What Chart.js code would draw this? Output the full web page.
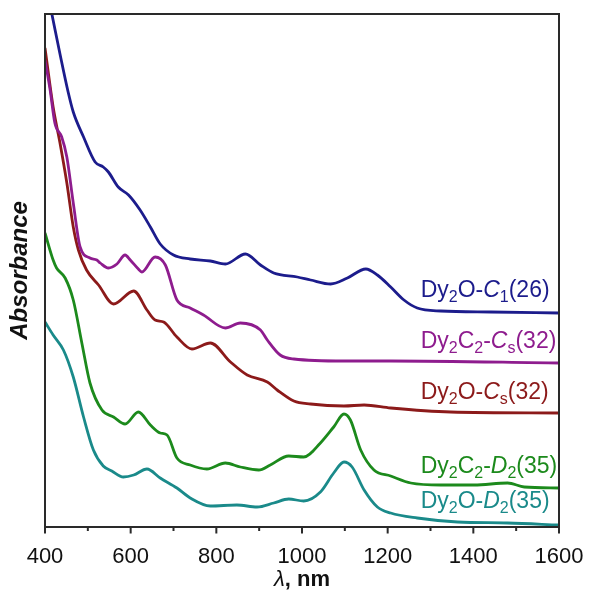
<!DOCTYPE html>
<html><head><meta charset="utf-8">
<script src="https://cdn.jsdelivr.net/npm/chart.js@4"></script>
<style>html,body{margin:0;padding:0;background:#fff}#wrap{width:589px;height:593px;position:relative}</style>
</head><body><div id="wrap"><canvas id="c"></canvas></div>
<script>
// wavelengths (nm) and absorbance (arbitrary units, offset traces)
const wlC1  = [400,416,435,454,466,490,517,536,548,571,595,622,646,669,700,739,786,821,868,903,934,989,1020,1067,1106,1149,1176,1207,1238,1269,1324,1441,1600];
const absC1 = [545,512,472,434,414,389,364,359,354,339,331,316,299,282,271,267,265,262,272,261,253,249,246,242,248,257,251,239,226,218,215,214,213];

const wlCs2  = [400,412,423,439,451,466,482,505,521,529,548,568,587,599,618,626,657,681,708,739,770,821,856,903,919,949,981,1098,1207,1600];
const absCs2 = [466,436,403,389,369,323,279,268,266,263,258,262,271,266,257,254,269,261,226,218,211,198,203,196,186,171,167,165,165,163];

const wlCs1  = [400,419,435,451,466,478,497,525,560,607,638,657,677,708,743,786,833,872,919,942,981,1020,1098,1145,1207,1347,1600];
const absCs1 = [478,419,383,343,299,276,256,241,222,235,216,206,204,189,177,183,164,151,144,136,125,122,120,121,118,114,113];

const wlD2b  = [400,419,427,447,466,486,505,533,560,587,618,646,669,685,708,739,778,821,856,899,926,969,1004,1043,1074,1098,1113,1137,1168,1207,1254,1324,1402,1480,1519,1600];
const absD2b = [293,266,258,248,226,183,143,116,109,102,114,101,93,91,68,61,57,63,59,56,61,70,69,83,99,112,106,76,56,50,43,41,41,43,39,38];

const wlD2a  = [400,419,443,466,490,513,536,556,583,607,638,669,708,739,786,848,895,934,969,1004,1043,1074,1098,1117,1145,1176,1207,1269,1363,1480,1600];
const absD2a = [204,191,176,149,109,76,60,55,49,51,57,48,38,28,20,21,19,23,27,25,34,53,64,59,36,19,13,8,4,3,1];

const xTicks = [400,600,800,1000,1200,1400,1600];

const colors = ['#1c1c8c','#8e1c8e','#8c1a1a','#1c8a1c','#1a8a8a'];

// label text parts: s = subscript, i = italic
const labels = [
  {parts:[{t:'Dy'},{t:'2',s:1},{t:'O-'},{t:'C',i:1},{t:'1',s:1},{t:'(26)'}], x:1277, y:229},
  {parts:[{t:'Dy'},{t:'2',s:1},{t:'C'},{t:'2',s:1},{t:'-'},{t:'C',i:1},{t:'s',s:1},{t:'(32)'}], x:1277, y:178},
  {parts:[{t:'Dy'},{t:'2',s:1},{t:'O-'},{t:'C',i:1},{t:'s',s:1},{t:'(32)'}], x:1277, y:127},
  {parts:[{t:'Dy'},{t:'2',s:1},{t:'C'},{t:'2',s:1},{t:'-'},{t:'D',i:1},{t:'2',s:1},{t:'(35)'}], x:1277, y:53},
  {parts:[{t:'Dy'},{t:'2',s:1},{t:'O-'},{t:'D',i:1},{t:'2',s:1},{t:'(35)'}], x:1277, y:18}
];

const series = [[wlC1,absC1],[wlCs2,absCs2],[wlCs1,absCs1],[wlD2b,absD2b],[wlD2a,absD2a]];
const FF = '"Liberation Sans", Arial, sans-serif';

const deco = {
  id:'deco',
  afterDatasetsDraw(chart){
    const ctx = chart.ctx, a = chart.chartArea, xs = chart.scales.x, ys = chart.scales.y;
    ctx.save();
    // frame
    ctx.strokeStyle = '#2a2a2a'; ctx.lineWidth = 2;
    ctx.strokeRect(a.left, a.top, a.right - a.left, a.bottom - a.top);
    // ticks
    xs.ticks.forEach(t => {
      const px = xs.getPixelForValue(t.value);
      const len = xTicks.includes(t.value) ? 6.5 : 4;
      ctx.beginPath(); ctx.moveTo(px, a.bottom); ctx.lineTo(px, a.bottom + len); ctx.stroke();
    });
    // labels
    labels.forEach((lb, k) => {
      let x = xs.getPixelForValue(lb.x);
      const y = ys.getPixelForValue(lb.y);
      ctx.fillStyle = colors[k];
      ctx.textBaseline = 'alphabetic'; ctx.textAlign = 'left';
      lb.parts.forEach(p => {
        const size = p.s ? 16 : 23;
        ctx.font = (p.i ? 'italic ' : '') + size + 'px ' + FF;
        ctx.fillText(p.t, x, y + (p.s ? 5 : 0));
        x += ctx.measureText(p.t).width;
      });
    });
    // x title
    ctx.fillStyle = '#111';
    ctx.textBaseline = 'middle';
    const f1 = 'italic 22px ' + FF, f2 = 'bold 22px ' + FF;
    ctx.font = f1; const w1 = ctx.measureText('λ').width;
    ctx.font = f2; const w2 = ctx.measureText(', nm').width;
    let cx = (a.left + a.right) / 2 - (w1 + w2) / 2;
    ctx.font = f1; ctx.fillText('λ', cx, 580);
    ctx.font = f2; ctx.fillText(', nm', cx + w1, 580);
    ctx.restore();
  }
};

new Chart(document.getElementById('c'), {
  type:'line',
  data:{ datasets: series.map((s, k) => ({
    data: s[0].map((x, i) => ({x, y: s[1][i]})),
    borderColor: colors[k], borderWidth: 2.8, pointRadius: 0,
    cubicInterpolationMode: 'monotone', fill: false
  }))},
  options:{
    responsive:true, maintainAspectRatio:false, animation:false,
    layout:{padding:{left:0, right:30, top:14, bottom:0}},
    plugins:{legend:{display:false}, tooltip:{enabled:false}},
    scales:{
      x:{type:'linear', min:400, max:1600,
        grid:{display:true, drawOnChartArea:false, drawTicks:false},
        border:{display:false},
        ticks:{stepSize:100, autoSkip:false, maxRotation:0, padding:17, color:'#111',
          font:{family:FF, size:22},
          callback:v => xTicks.includes(v) ? String(v) : ''},
        afterFit:s => { s.height = 66; s.paddingLeft = 0; s.paddingRight = 0; }
      },
      y:{min:-1, max:512,
        grid:{display:false}, border:{display:false},
        ticks:{display:false},
        title:{display:true, text:'Absorbance', color:'#111', padding:{top:6,bottom:0},
          font:{family:FF, size:24, style:'italic', weight:'bold'}},
        afterFit:s => { s.width = 45; s.paddingTop = 0; s.paddingBottom = 0; }
      }
    }
  },
  plugins:[deco]
});
</script></body></html>
